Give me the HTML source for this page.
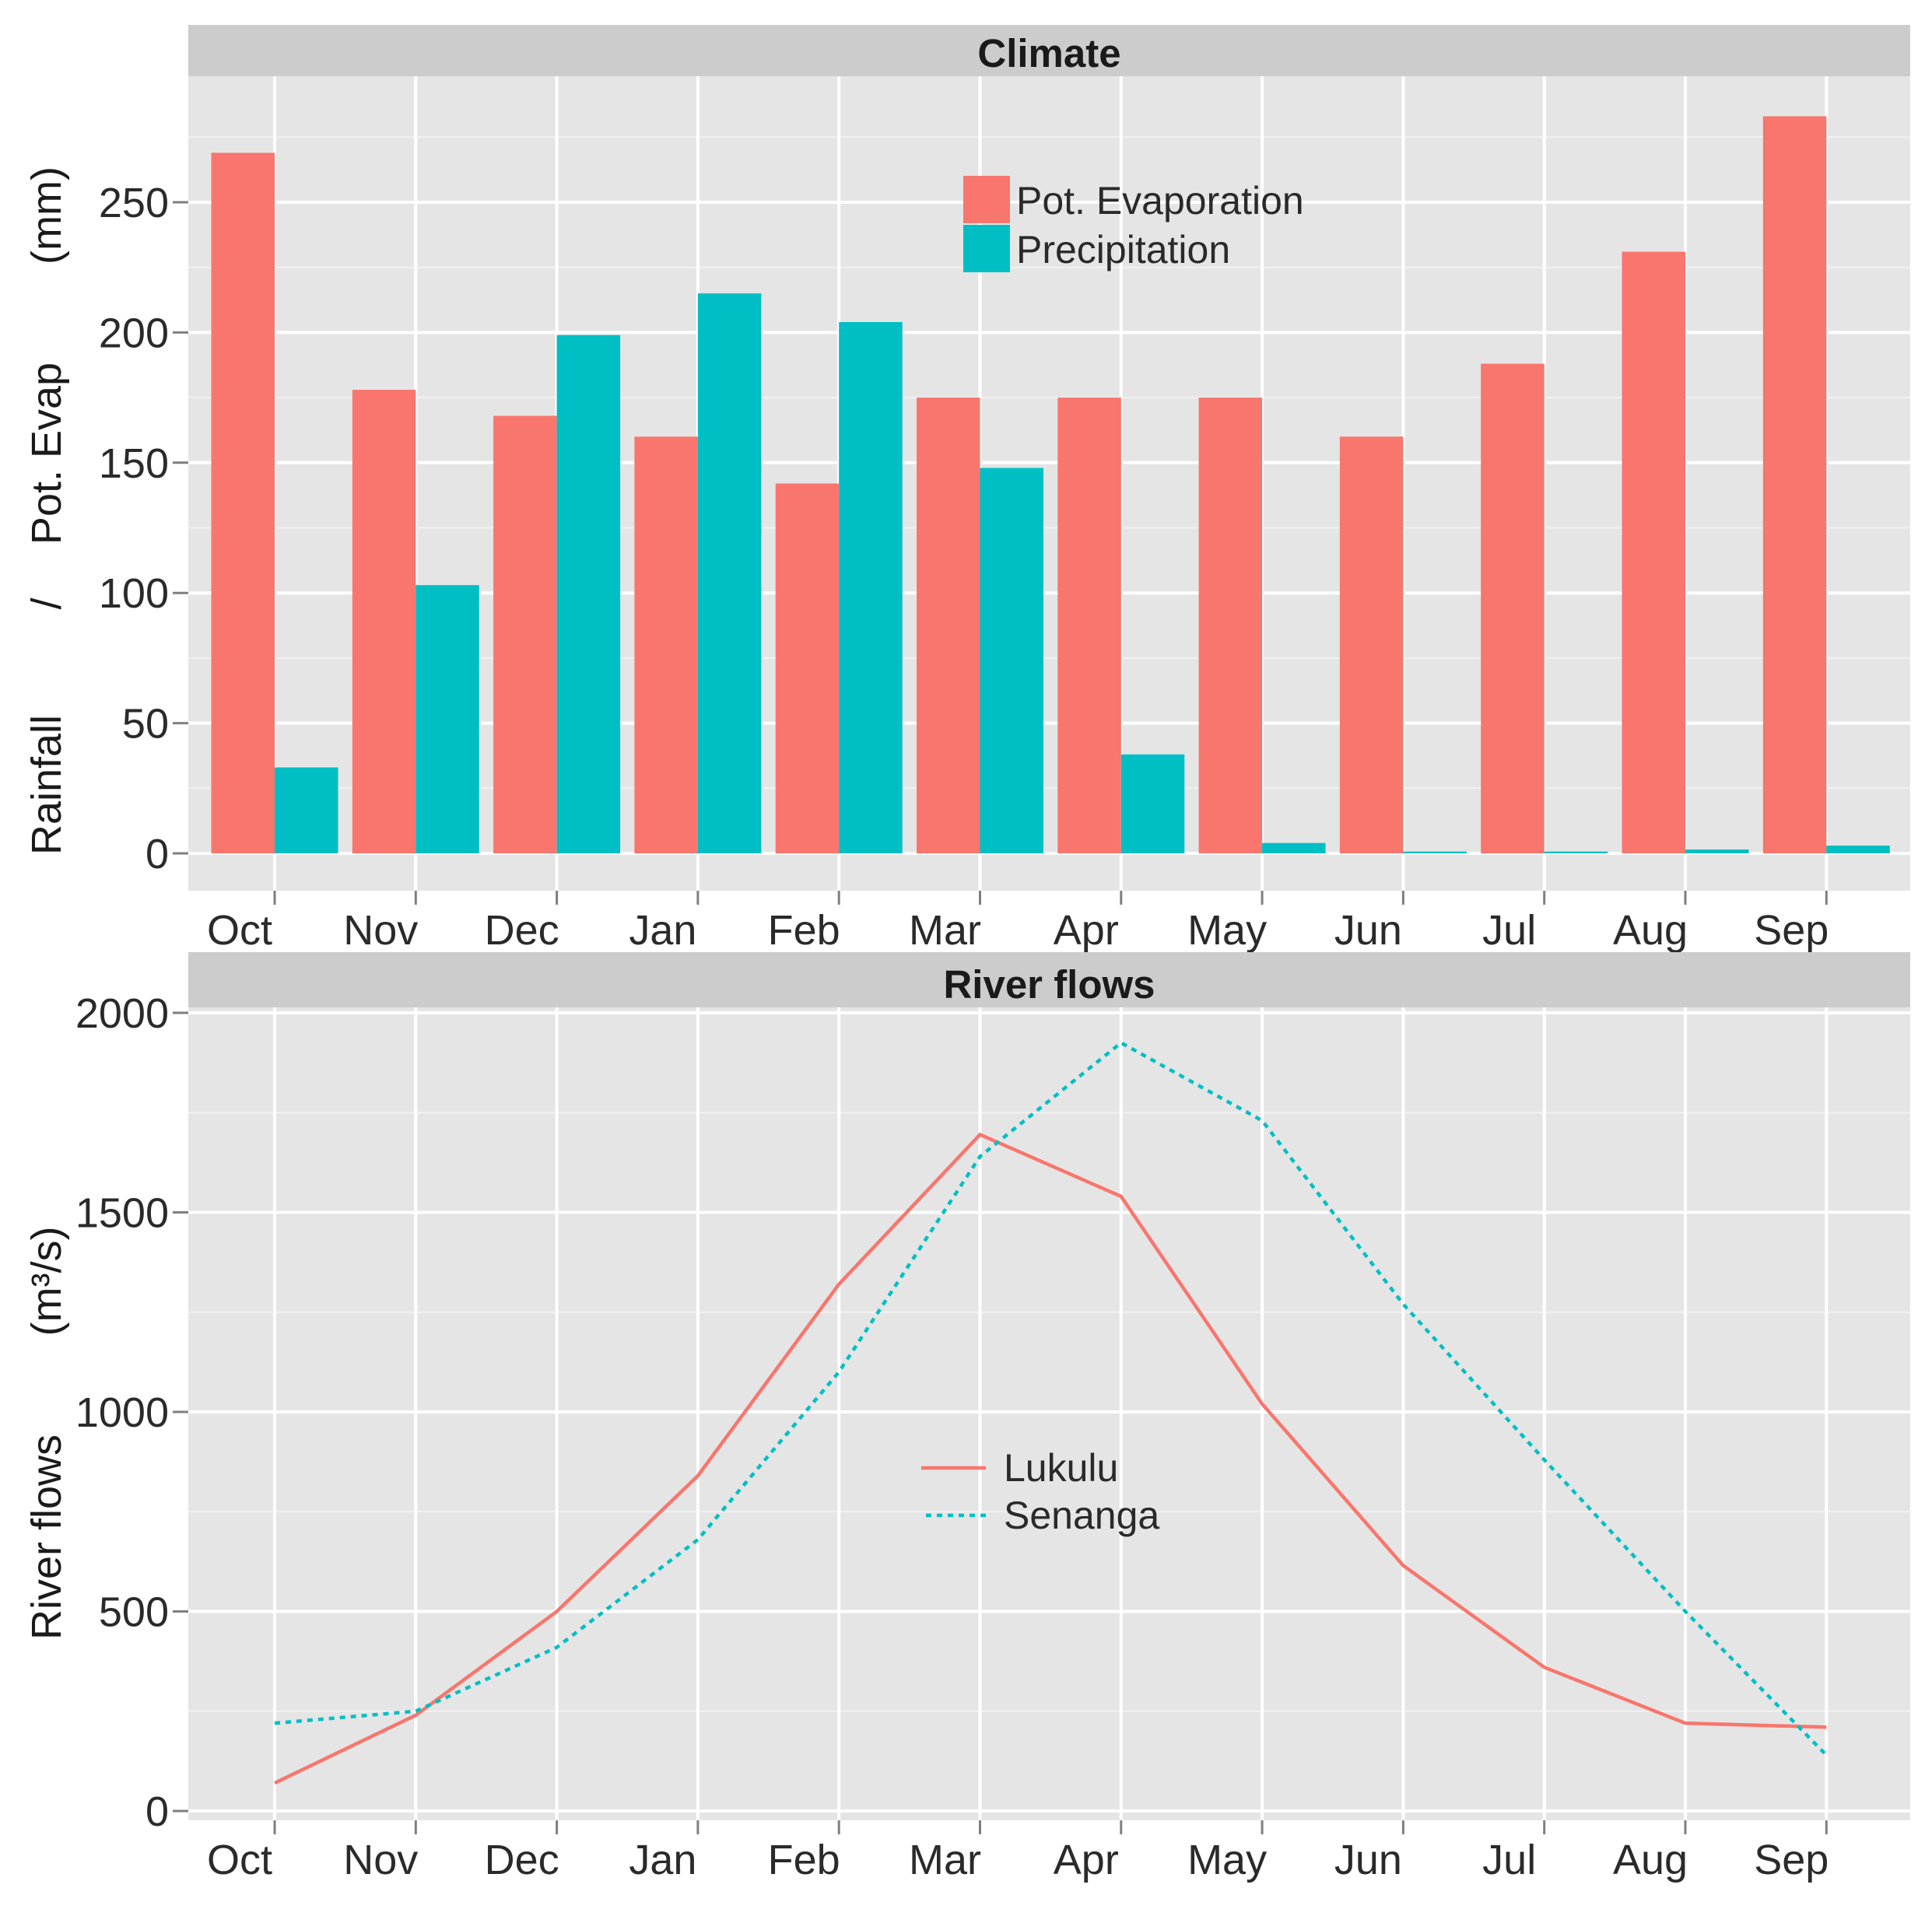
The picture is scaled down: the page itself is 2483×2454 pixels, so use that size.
<!DOCTYPE html>
<html><head><meta charset="utf-8"><style>
body{margin:0;background:#fff;}
svg text{font-family:"Liberation Sans",sans-serif;}
</style></head><body>
<svg id="chart" width="2483" height="2449" viewBox="0 0 2483 2449" xmlns="http://www.w3.org/2000/svg">
<rect width="2483" height="2449" fill="#fff"/>
</svg>
<script>
const months=["Oct","Nov","Dec","Jan","Feb","Mar","Apr","May","Jun","Jul","Aug","Sep"];
const potEvap=[269,178,168,160,142,175,175,175,160,188,231,283];
const precip=[33,103,199,215,204,148,38,4,0.7,0.7,1.5,3];
const lukulu=[70,240,500,840,1320,1695,1540,1020,615,360,220,210];
const senanga=[220,250,410,680,1100,1640,1925,1730,1270,880,500,140];
const climateTicks=[0,50,100,150,200,250];
const flowTicks=[0,500,1000,1500,2000];

const svg=document.getElementById('chart');
const NS='http://www.w3.org/2000/svg';
function mk(tag,attrs,parent){const e=document.createElementNS(NS,tag);for(const k in attrs)e.setAttribute(k,attrs[k]);(parent||svg).appendChild(e);return e;}
const L=242,R=2455;
const x=i=>353+i*181.3;
const yT=v=>1097-v*(1097-260)/250;
const yB=v=>2328-v*(2328-1302)/2000;

function panel(name,stripTop,stripBot,plotBot,title,ticks,yf,minorStep){
  const g=mk('g',{});
  
  
  const s=mk('rect',{x:L,y:stripTop,width:R-L,height:stripBot-stripTop,fill:'#CCCCCC'},g);
  
  const t=mk('text',{x:(L+R)/2,y:stripBot-12,'text-anchor':'middle','font-size':51,'font-weight':'bold',fill:'#1a1a1a'},g);
  t.textContent=title;
  
  mk('rect',{x:L,y:stripBot,width:R-L,height:plotBot-stripBot,fill:'#E5E5E5'},g);
  for(let k=0;k<ticks.length-1;k++){const v=(ticks[k]+ticks[k+1])/2;mk('line',{x1:L,x2:R,y1:yf(v),y2:yf(v),stroke:'#F2F2F2','stroke-width':2},g);}
  const top=ticks[ticks.length-1]+minorStep;
  if(yf(top)>stripBot) mk('line',{x1:L,x2:R,y1:yf(top),y2:yf(top),stroke:'#F2F2F2','stroke-width':2},g);
  ticks.forEach(v=>{
    mk('line',{x1:L,x2:R,y1:yf(v),y2:yf(v),stroke:'#fff','stroke-width':4},g);
    mk('line',{x1:222,x2:L,y1:yf(v),y2:yf(v),stroke:'#7f7f7f','stroke-width':3},g);
    const lb=mk('text',{x:217,y:yf(v)+19,'text-anchor':'end','font-size':54,fill:'#2a2a2a'},g);
    lb.textContent=v;
    
  });
  months.forEach((m,i)=>{
    mk('line',{x1:x(i),x2:x(i),y1:stripBot,y2:plotBot,stroke:'#fff','stroke-width':4},g);
    mk('line',{x1:x(i),x2:x(i),y1:plotBot,y2:plotBot+18,stroke:'#7f7f7f','stroke-width':3},g);
    const lb=mk('text',{x:x(i)-45,y:plotBot+69,'text-anchor':'middle','font-size':54,fill:'#2a2a2a'},g);
    lb.textContent=m;
    
  });
  return g;
}
const gt=panel('climate',32,98,1145,'Climate',climateTicks,yT,25);
const bw=81.5;
potEvap.forEach((v,i)=>{
  const r=mk('rect',{x:x(i)-bw,y:yT(v),width:bw,height:yT(0)-yT(v),fill:'#F8766D'},gt);
  
  
});
precip.forEach((v,i)=>{
  const r=mk('rect',{x:x(i),y:yT(v),width:bw,height:Math.max(yT(0)-yT(v),1.5),fill:'#00BFC4'},gt);
  
  
});
const lg=mk('g',{});


mk('rect',{x:1238,y:226,width:60,height:61,fill:'#F8766D'},lg);
mk('rect',{x:1238,y:289,width:60,height:61,fill:'#00BFC4'},lg);
let t1=mk('text',{x:1306,y:275,'font-size':50,fill:'#2a2a2a'},lg);t1.textContent='Pot. Evaporation';

let t2=mk('text',{x:1306,y:338,'font-size':50,fill:'#2a2a2a'},lg);t2.textContent='Precipitation';


function ytitle(parts,name){
  const g=mk('g',{});
  
  
  parts.forEach(([txt,cy])=>{
    const t=mk('text',{transform:'translate(78,'+cy+') rotate(-90)','text-anchor':'middle','font-size':54,fill:'#1a1a1a'},g);
    t.textContent=txt;
  });
}
ytitle([['Rainfall',1009],['/',776],['Pot. Evap',583],['(mm)',277]],'climate-y-axis-title');

const gb=panel('river-flows',1224,1295,2340,'River flows',flowTicks,yB,250);
const pts=a=>a.map((v,i)=>x(i)+','+yB(v)).join(' ');
const l1=mk('polyline',{points:pts(lukulu),fill:'none',stroke:'#F8766D','stroke-width':4.5},gb);

const l2=mk('polyline',{points:pts(senanga),fill:'none',stroke:'#00BFC4','stroke-width':4.5,'stroke-dasharray':'7 7'},gb);

const lg2=mk('g',{});


mk('line',{x1:1184,x2:1267,y1:1887,y2:1887,stroke:'#F8766D','stroke-width':4.5},lg2);
mk('line',{x1:1190,x2:1267,y1:1948,y2:1948,stroke:'#00BFC4','stroke-width':4.5,'stroke-dasharray':'7 7'},lg2);
let t3=mk('text',{x:1290,y:1904,'font-size':50,fill:'#2a2a2a'},lg2);t3.textContent='Lukulu';

let t4=mk('text',{x:1290,y:1965,'font-size':50,fill:'#2a2a2a'},lg2);t4.textContent='Senanga';

ytitle([['River flows',1976],['(m³/s)',1647]],'river-flows-y-axis-title');
</script>
</body></html>
